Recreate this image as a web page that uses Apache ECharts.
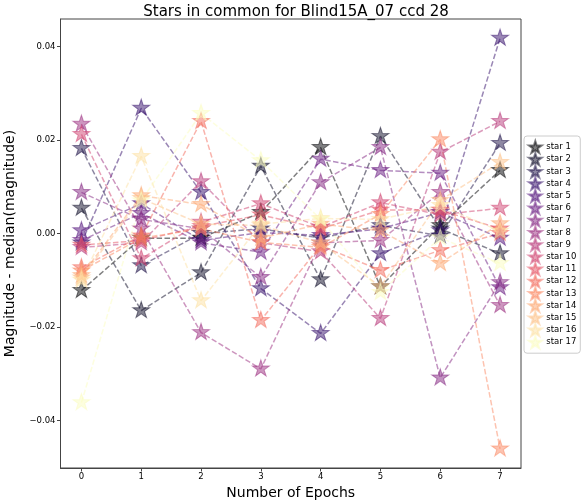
<!DOCTYPE html>
<html>
<head>
<meta charset="utf-8">
<script src="https://cdn.jsdelivr.net/npm/echarts@6/dist/echarts.min.js"></script>
<style>
  html, body { margin: 0; padding: 0; background: #fff; }
  #chart { width: 586px; height: 500px; }
</style>
</head>
<body>
<div id="chart"></div>
<script>
// epochs on the x axis
const epochs = [0, 1, 2, 3, 4, 5, 6, 7];

// magnitude - median(magnitude), one list per star
const star1  = [-0.0122, -0.0010, -0.0010, 0.0045, 0.0184, -0.0114, 0.0017, 0.0135];
const star2  = [0.0054, -0.0165, -0.0084, 0.0144, -0.0099, 0.0208, 0.0010, -0.0043];
const star3  = [0.0182, -0.0069, 0.0000, 0.0010, -0.0010, 0.0017, -0.0005, 0.0193];
const star4  = [-0.0020, 0.0268, 0.0088, -0.0118, -0.0214, -0.0043, 0.0006, 0.0418];
const star5  = [0.0006, 0.0064, -0.0015, 0.0002, -0.0004, 0.0010, 0.0045, -0.0010];
const star6  = [-0.0015, 0.0043, -0.0020, -0.0040, 0.0159, 0.0135, 0.0129, -0.0116];
const star7  = [0.0088, 0.0030, 0.0010, -0.0094, 0.0109, 0.0184, -0.0309, -0.0105];
const star8  = [0.0234, 0.0010, -0.0212, -0.0290, -0.0020, -0.0015, 0.0088, -0.0154];
const star9  = [-0.0030, -0.0020, 0.0111, -0.0020, -0.0039, -0.0182, 0.0174, 0.0240];
const star10 = [0.0212, -0.0054, 0.0024, 0.0064, 0.0013, 0.0066, 0.0040, 0.0054];
const star11 = [-0.0025, -0.0015, 0.0015, 0.0040, 0.0010, 0.0050, 0.0050, 0.0010];
const star12 = [-0.0073, -0.0005, 0.0240, -0.0186, -0.0026, -0.0079, -0.0036, 0.0000];
const star13 = [-0.0080, -0.0010, 0.0010, -0.0019, -0.0030, 0.0041, 0.0201, -0.0461];
const star14 = [-0.0090, 0.0081, 0.0062, -0.0010, 0.0020, 0.0006, -0.0064, 0.0021];
const star15 = [-0.0095, 0.0075, 0.0020, 0.0017, -0.0020, -0.0114, 0.0071, 0.0152];
const star16 = [-0.0100, 0.0165, -0.0144, 0.0020, 0.0032, 0.0030, 0.0060, 0.0005];
const star17 = [-0.0362, 0.0070, 0.0257, 0.0156, 0.0030, -0.0126, -0.0009, -0.0064];

const stars = [star1, star2, star3, star4, star5, star6, star7, star8, star9,
               star10, star11, star12, star13, star14, star15, star16, star17];
const starNames = stars.map((s, i) => 'star ' + (i + 1));

// tick labels
const xTicks = [0, 1, 2, 3, 4, 5, 6, 7];
const yTicks = [-0.04, -0.02, 0, 0.02, 0.04];

// magma colormap sampled at i/16
const magma = ['#000004', '#0c0926', '#1d1147', '#36106b', '#51127c', '#6a1c81',
               '#832681', '#9c2e7f', '#b73779', '#d0416f', '#e65164', '#f4695c',
               '#fb8761', '#fea772', '#fec287', '#fde2a3', '#fcfdbf'];

const starPath = 'path://M0,-1L0.2245,-0.309L0.951,-0.309L0.3633,0.118L0.5878,0.809L0,0.382L-0.5878,0.809L-0.3633,0.118L-0.951,-0.309L-0.2245,-0.309Z';
const font = 'DejaVu Sans';
const minus = v => String(v).replace('-', '\u2212');

const chart = echarts.init(document.getElementById('chart'), null, { renderer: 'canvas' });

const series = stars.map((vals, i) => ({
  name: starNames[i],
  type: 'line',
  data: vals.map((v, j) => [epochs[j], v]),
  symbol: starPath,
  symbolSize: [17, 16],
  symbolOffset: [0, -1],
  showAllSymbol: true,
  lineStyle: { color: magma[i], width: 1.5, type: [5.5, 2.4], opacity: 0.5 },
  itemStyle: { color: magma[i], borderColor: magma[i], borderWidth: 1, opacity: 0.5 },
  emphasis: { disabled: true },
  z: 2
}));

chart.setOption({
  animation: false,
  backgroundColor: '#fff',
  title: {
    text: 'Stars in common for Blind15A_07 ccd 28',
    left: 291, top: 0, textAlign: 'center',
    textStyle: { fontFamily: font, fontSize: 15, fontWeight: 'normal', color: '#000' }
  },
  grid: {
    left: 60.5, right: 65, top: 19, bottom: 32,
    outerBoundsMode: 'none',
    containLabel: false,
    show: true, borderColor: '#444', borderWidth: 1, backgroundColor: 'transparent'
  },
  legend: {
    orient: 'vertical',
    left: 524, top: 136,
    data: starNames,
    icon: starPath,
    itemWidth: 14, itemHeight: 12, itemGap: -1.8,
    padding: [4, 4, 4, 4],
    backgroundColor: '#fff',
    borderColor: '#ccc', borderWidth: 1, borderRadius: 3,
    textStyle: { fontFamily: font, fontSize: 8.5, lineHeight: 10, color: '#000', padding: [0, 0, 0, -1] },
    itemStyle: { opacity: 0.5 }
  },
  xAxis: {
    type: 'value',
    min: -0.35, max: 7.35,
    name: 'Number of Epochs',
    nameLocation: 'middle', nameGap: 17,
    nameTextStyle: { fontFamily: font, fontSize: 14, color: '#000' },
    axisLine: { show: true, onZero: false, lineStyle: { color: '#444', width: 1 } },
    axisTick: { show: true, customValues: xTicks, length: 3.5, lineStyle: { color: '#444' } },
    axisLabel: { customValues: xTicks, fontFamily: font, fontSize: 8.5, color: '#000', margin: 4 },
    splitLine: { show: false }
  },
  yAxis: {
    type: 'value',
    min: -0.0502, max: 0.0459,
    name: 'Magnitude - median(magnitude)',
    nameLocation: 'middle', nameGap: 43,
    nameTextStyle: { fontFamily: font, fontSize: 14, color: '#000' },
    axisLine: { show: true, onZero: false, lineStyle: { color: '#444', width: 1 } },
    axisTick: { show: true, customValues: yTicks, length: 3.5, lineStyle: { color: '#444' } },
    axisLabel: {
      customValues: yTicks, fontFamily: font, fontSize: 8.5, color: '#000', margin: 5,
      formatter: v => minus(v.toFixed(2))
    },
    splitLine: { show: false }
  },
  series: series
});
</script>
</body>
</html>
